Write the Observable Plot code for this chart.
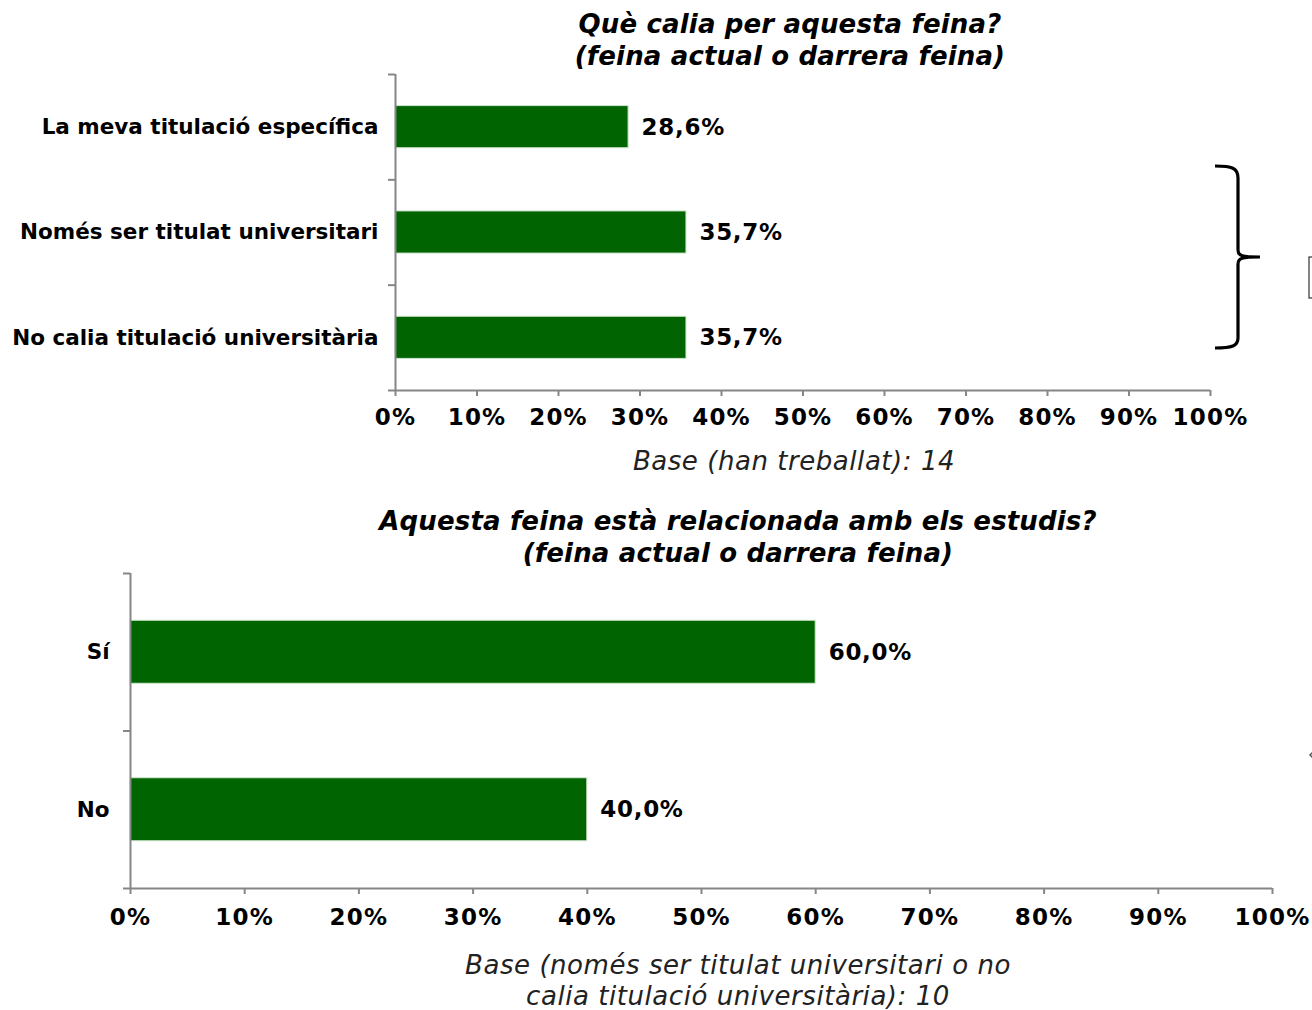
<!DOCTYPE html>
<html><head><meta charset="utf-8">
<script src="https://cdn.jsdelivr.net/npm/d3@7"></script>
<script src="https://cdn.jsdelivr.net/npm/@observablehq/plot@0.6"></script>
<style>
body{margin:0;background:#fff;}
#root{position:relative;width:1312px;height:1010px;overflow:hidden;font-family:"DejaVu Sans",Verdana,sans-serif;color:#000;}
.t{position:absolute;transform:translateX(-50%);text-align:center;white-space:nowrap;}
.title{font-weight:bold;font-style:italic;font-size:26px;line-height:32px;letter-spacing:0.15px;}
.cap{font-style:italic;font-size:26px;line-height:31px;color:#222;letter-spacing:0.55px;}
</style></head>
<body>
<div id="root"></div>
<script>
// ---- data ----
const cats1 = ["La meva titulació específica", "Només ser titulat universitari", "No calia titulació universitària"];
const vals1 = [28.6, 35.7, 35.7];
const cats2 = ["Sí", "No"];
const vals2 = [60.0, 40.0];
const xTicks = [0, 10, 20, 30, 40, 50, 60, 70, 80, 90, 100];
const title1 = ["Què calia per aquesta feina?", "(feina actual o darrera feina)"];
const caption1 = ["Base (han treballat): 14"];
const title2 = ["Aquesta feina està relacionada amb els estudis?", "(feina actual o darrera feina)"];
const caption2 = ["Base (només ser titulat universitari o no", "calia titulació universitària): 10"];

const root = document.getElementById("root");
const GREEN = "#006400";
const AXIS = "#868686";

function makeChart(cats, vals, o) {
  const data = cats.map((c, i) => ({c, v: vals[i], i}));
  const n = cats.length;
  const svg = Plot.plot({
    width: 1312, height: o.height,
    marginLeft: o.ml, marginRight: o.mr, marginTop: o.mt, marginBottom: o.mb,
    style: {fontFamily: '"DejaVu Sans", Verdana, sans-serif', fontSize: "21px", background: "transparent", color: "#000", overflow: "visible"},
    x: {domain: [0, 100]},
    y: {domain: [n, 0]},
    marks: [
      Plot.rectX(data, {x1: 0, x2: "v", y1: d => d.i + 0.3, y2: d => d.i + 0.7, fill: GREEN, stroke: "#cfe6cf", strokeWidth: 1}),
      Plot.text(data, {x: "v", y: d => d.i + 0.5, text: d => d.v.toFixed(1).replace(".", ",") + "%", textAnchor: "start", dx: 13, fontWeight: "bold", fontSize: 23}),
      Plot.axisY({ticks: d3.range(n + 1), tickFormat: () => "", tickSize: 7, stroke: AXIS, strokeWidth: 2, label: null}),
      Plot.axisY({ticks: data.map(d => d.i + 0.5), tickFormat: v => cats[Math.floor(v)], tickSize: 0, tickPadding: o.ypad, fontWeight: "bold", fontSize: 21.5, label: null}),
      Plot.axisX({ticks: xTicks, tickFormat: d => d + "%", tickSize: 6, tickPadding: o.xpad, stroke: AXIS, strokeWidth: 2, fontWeight: "bold", fontSize: 23, label: null}),
      Plot.ruleX([0], {stroke: AXIS, strokeWidth: 2}),
      Plot.ruleY([n], {stroke: AXIS, strokeWidth: 2})
    ]
  });
  d3.select(svg).selectAll('g[aria-label="x-axis tick label"] text').style("letter-spacing", "1.2px");
  d3.select(svg).selectAll('g[aria-label="text"] text').style("letter-spacing", "0.7px");
  svg.style.position = "absolute";
  svg.style.top = o.top + "px";
  svg.style.left = "0px";
  root.appendChild(svg);
}

function addText(lines, cls, cx, top) {
  const d = document.createElement("div");
  d.className = "t " + cls;
  d.style.left = cx + "px";
  d.style.top = top + "px";
  lines.forEach((l, k) => { if (k) d.appendChild(document.createElement("br")); d.appendChild(document.createTextNode(l)); });
  root.appendChild(d);
}

makeChart(cats1, vals1, {top: 0, height: 440, ml: 395, mr: 102, mt: 74, mb: 50, ypad: 17, xpad: 12});
makeChart(cats2, vals2, {top: 480, height: 460, ml: 130, mr: 40, mt: 93, mb: 52, ypad: 21, xpad: 14});

addText(title1, "title", 790, 8);
addText(caption1, "cap", 794, 446);
addText(title2, "title", 738, 505);
addText(caption2, "cap", 738, 950);

// decorative brace and cut-off box on the right edge
const ns = "http://www.w3.org/2000/svg";
const deco = document.createElementNS(ns, "svg");
deco.setAttribute("width", 1312); deco.setAttribute("height", 1010);
deco.style.position = "absolute"; deco.style.left = "0"; deco.style.top = "0"; deco.style.pointerEvents = "none";
deco.innerHTML = `
<path d="M1215,166 C1232,166 1238,168 1238,178 L1238,250 C1238,256 1242,257 1260,257 M1260,257 C1242,257 1238,258 1238,264 L1238,338 C1238,346 1232,348 1215,348" fill="none" stroke="#000" stroke-width="3.2"/>
<rect x="1309" y="257" width="10" height="41" fill="none" stroke="#333" stroke-width="1.2"/>
<path d="M1314,751 L1310,755 L1314,759" fill="none" stroke="#555" stroke-width="1.5"/>`;
root.appendChild(deco);
</script>
</body></html>
